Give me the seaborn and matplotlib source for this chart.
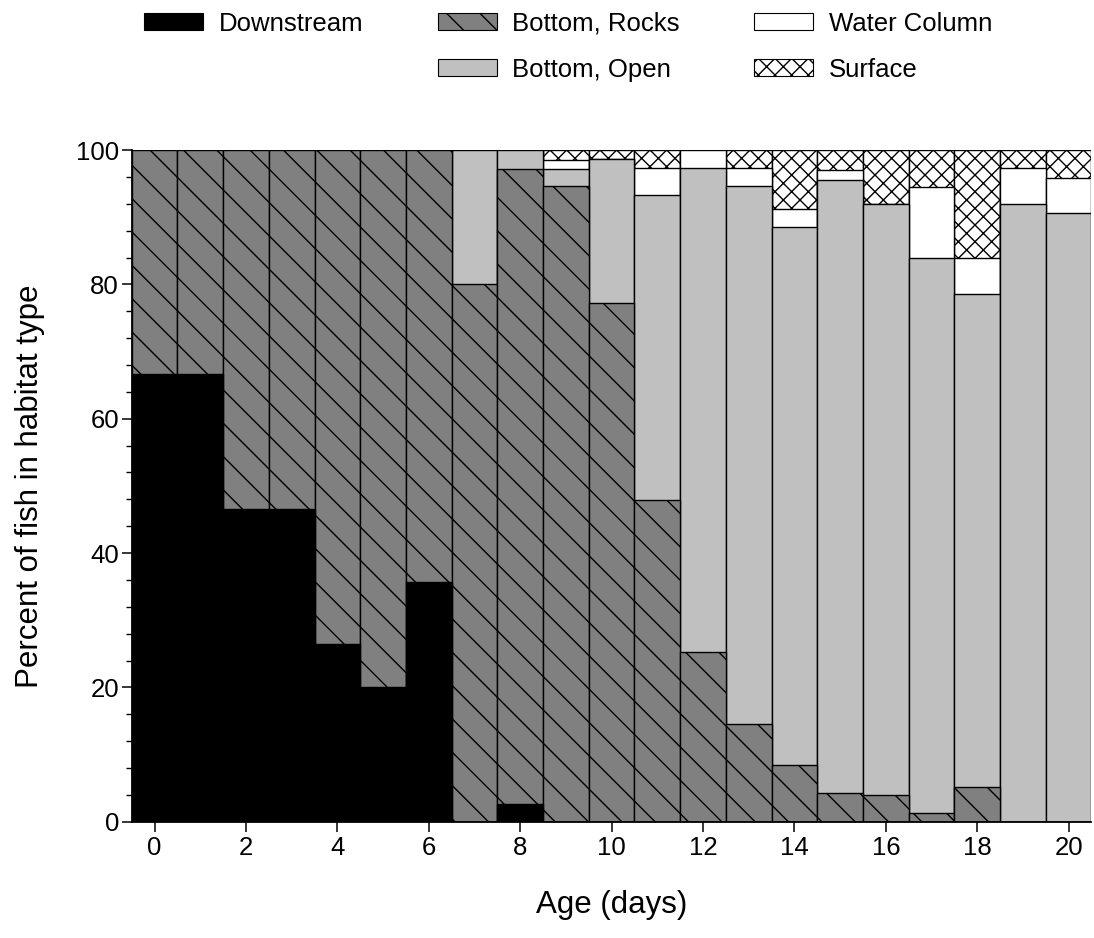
import numpy as np
import pandas as pd
import matplotlib
matplotlib.use("Agg")
import matplotlib.pyplot as plt
from matplotlib.patches import Patch
import seaborn as sns

# Age of the fish (days)
days = list(range(21))

# Percent of fish in each habitat type, listed bottom to top of each stack
downstream = [66.7, 66.7, 46.5, 46.5, 26.5, 20.0, 35.7, 0.0, 2.6, 0.0, 0.0,
              0.0, 0.0, 0.0, 0.0, 0.0, 0.0, 0.0, 0.0, 0.0, 0.0]
bottom_rocks = [33.3, 33.3, 53.5, 53.5, 73.5, 80.0, 64.3, 80.0, 94.6, 94.6, 77.2,
                47.9, 25.3, 14.5, 8.4, 4.2, 3.9, 1.25, 5.2, 0.0, 0.0]
bottom_open = [0.0, 0.0, 0.0, 0.0, 0.0, 0.0, 0.0, 20.0, 2.8, 2.6, 21.4,
               45.4, 72.0, 80.1, 80.1, 91.4, 88.0, 82.65, 73.4, 91.9, 90.6]
water_column = [0.0, 0.0, 0.0, 0.0, 0.0, 0.0, 0.0, 0.0, 0.0, 1.3, 0.0,
                4.0, 2.7, 2.7, 2.8, 1.5, 0.0, 10.6, 5.3, 5.4, 5.3]
surface = [0.0, 0.0, 0.0, 0.0, 0.0, 0.0, 0.0, 0.0, 0.0, 1.5, 1.4,
           2.7, 0.0, 2.7, 8.7, 2.9, 8.1, 5.5, 16.1, 2.7, 4.1]

habitats = ["Downstream", "Bottom, Rocks", "Bottom, Open", "Water Column", "Surface"]
series = [downstream, bottom_rocks, bottom_open, water_column, surface]
styles = {
    "Downstream": dict(color="black", hatch=None),
    "Bottom, Rocks": dict(color="#808080", hatch="\\"),
    "Bottom, Open": dict(color="#c0c0c0", hatch=None),
    "Water Column": dict(color="white", hatch=None),
    "Surface": dict(color="white", hatch="xx"),
}

sns.set_theme(style="ticks")
plt.rcParams["font.family"] = ["Liberation Sans", "DejaVu Sans"]
plt.rcParams["hatch.linewidth"] = 1.0
plt.rcParams["hatch.color"] = "black"
for key in ("text.color", "axes.labelcolor", "xtick.color", "ytick.color",
            "xtick.labelcolor", "ytick.labelcolor"):
    plt.rcParams[key] = "black"

# Running totals so each layer can be drawn as a stacked bar
df = pd.DataFrame({"day": days})
cum = np.zeros(len(days))
for name, vals in zip(habitats, series):
    cum = cum + np.asarray(vals)
    df[name] = cum

fig = plt.figure(figsize=(10.94, 9.38), dpi=100)
ax = fig.add_axes([0.1204, 0.124, 0.8773, 0.716])

# Draw the tallest running total first so lower layers sit on top of it
for name in reversed(habitats):
    st = styles[name]
    sns.barplot(data=df, x="day", y=name, native_scale=True, width=1.0,
                color=st["color"], saturation=1, edgecolor="black",
                linewidth=1.0, hatch=st["hatch"], errorbar=None, ax=ax)

ax.set_xlim(-0.5, 20.5)
ax.set_ylim(0, 100)
ax.set_xticks(range(0, 21, 2))
ax.set_xticklabels([str(d) for d in range(0, 21, 2)])
ax.set_yticks(range(0, 101, 20))
ax.set_yticks(range(0, 101, 4), minor=True)
ax.tick_params(axis="both", which="major", direction="out", length=7.2,
               width=1.1, labelsize=18.5)
ax.tick_params(axis="x", which="major", pad=3)
ax.tick_params(axis="y", which="major", pad=2)
ax.tick_params(axis="y", which="minor", direction="out", length=4.3, width=1.0)
ax.tick_params(axis="x", which="minor", bottom=False)
ax.set_xlabel("Age (days)", fontsize=22.5, labelpad=22)
ax.set_ylabel("Percent of fish in habitat type", fontsize=22.5, labelpad=22)
sns.despine(ax=ax)
for side in ("left", "bottom"):
    ax.spines[side].set_linewidth(1.3)
    ax.spines[side].set_color("black")
ax.grid(False)

# Legend: Downstream alone in the first column
handles = []
for name in habitats:
    st = styles[name]
    handles.append(Patch(facecolor=st["color"], edgecolor="black",
                         hatch=st["hatch"], linewidth=0.8, label=name))
blank = Patch(visible=False, label="")
leg_handles = [handles[0], blank, handles[1], handles[2], handles[3], handles[4]]
leg_labels = [h.get_label() for h in leg_handles]
fig.legend(leg_handles, leg_labels, ncol=3, loc="upper left",
           bbox_to_anchor=(0.12, 1.001), frameon=False, fontsize=18.5,
           borderpad=0, handlelength=2.3, handleheight=0.65,
           handletextpad=0.6, columnspacing=2.9, labelspacing=0.85)

fig.savefig("out.png", dpi=100)
